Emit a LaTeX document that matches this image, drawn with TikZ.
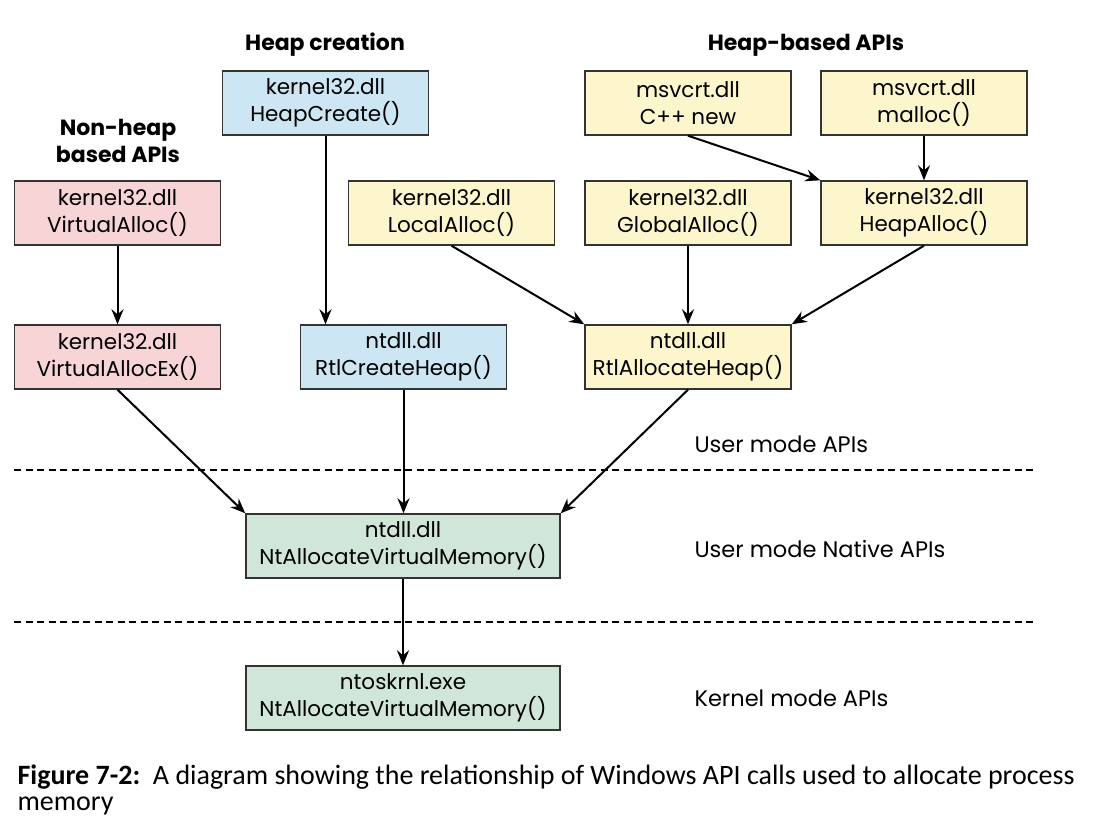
\documentclass[tikz,border=0pt]{standalone}
\usepackage{fontspec}
\setmainfont{Poppins}
\newfontfamily\capfont{Carlito}
\usetikzlibrary{arrows.meta}

\definecolor{boxline}{HTML}{333333}
\definecolor{nonheapfill}{HTML}{F7D4D5}
\definecolor{creationfill}{HTML}{CDE6F4}
\definecolor{heapfill}{HTML}{FDF6CC}
\definecolor{nativefill}{HTML}{D0E6D9}

\begin{document}
\begin{tikzpicture}[x=1pt, y=-1pt,
  api/.style={draw=boxline, line width=1.4pt, minimum width=206pt, minimum height=64pt,
    inner sep=0pt, align=center, font=\fontsize{21.5}{27}\selectfont},
  wideapi/.style={api, minimum width=314pt},
  heading/.style={align=center, font=\fontsize{22}{27}\selectfont\bfseries},
  modelabel/.style={anchor=west, font=\fontsize{22.5}{27}\selectfont},
  calls/.style={-{Stealth[length=15pt, width=12pt, inset=5pt]}, line width=2pt},
  border/.style={dash pattern=on 7pt off 4.5pt, line width=1.2pt}]
\useasboundingbox (0,0) rectangle (1096,832);

% Headings
\node[heading] (hcreate) at (325,45) {Heap creation};
\node[heading] (hbased) at (806,45) {Heap-based APIs};
\node[heading] (hnonheap) at (118,141) {Non-heap\\based APIs};

% Top row
\node[api, fill=creationfill] (hc) at (325.5,103) {kernel32.dll\\HeapCreate()};
\node[api, fill=heapfill] (cn) at (688,103) {msvcrt.dll\\C++ new};
\node[api, fill=heapfill] (ml) at (924,103) {msvcrt.dll\\malloc()};

% Second row
\node[api, fill=nonheapfill] (va) at (117.5,213) {kernel32.dll\\VirtualAlloc()};
\node[api, fill=heapfill] (la) at (451.5,213) {kernel32.dll\\LocalAlloc()};
\node[api, fill=heapfill] (ga) at (688,213) {kernel32.dll\\GlobalAlloc()};
\node[api, fill=heapfill] (ha) at (924,213) {kernel32.dll\\HeapAlloc()};

% Third row
\node[api, fill=nonheapfill] (vae) at (117.5,357) {kernel32.dll\\VirtualAllocEx()};
\node[api, fill=creationfill] (rch) at (403.5,357) {ntdll.dll\\RtlCreateHeap()};
\node[api, fill=heapfill] (rah) at (688,357) {ntdll.dll\\RtlAllocateHeap()};

% Native and kernel
\node[wideapi, fill=nativefill] (nav) at (403,546) {ntdll.dll\\NtAllocateVirtualMemory()};
\node[wideapi, fill=nativefill] (nkv) at (403,698) {ntoskrnl.exe\\NtAllocateVirtualMemory()};

% Mode borders
\coordinate (b1l) at (14,470);
\coordinate (b1r) at (1036,470);
\coordinate (b2l) at (14,622);
\coordinate (b2r) at (1036,622);
\draw[border] (b1l) -- (b1r);
\draw[border] (b2l) -- (b2r);

\node[modelabel] (umode) at (691,444) {User mode APIs};
\node[modelabel] (unative) at (691,549) {User mode Native APIs};
\node[modelabel] (kmode) at (691,698) {Kernel mode APIs};

% Calls
\draw[calls] (va) -- (vae);
\draw[calls] (hc.south) -- (hc.south |- rch.north);
\draw[calls] (cn.south) -- (ha.north west);
\draw[calls] (ml) -- (ha);
\draw[calls] (la.south) -- (rah.north west);
\draw[calls] (ga) -- (rah);
\draw[calls] (ha.south) -- (rah.north east);
\draw[calls] (vae.south) -- (nav.north west);
\draw[calls] (rch) -- (nav.north -| rch.south);
\draw[calls] (rah.south) -- (nav.north east);
\draw[calls] (nav) -- (nkv);

% Caption
\node[anchor=west, font=\capfont\fontsize{28}{30}\selectfont] (cap1) at (14,777)
  {\textbf{Figure 7-2:}\ \ A diagram showing the relationship of Windows API calls used to allocate process};
\node[anchor=west, font=\capfont\fontsize{28}{30}\selectfont] (cap2) at (14,806) {memory};
\end{tikzpicture}
\end{document}
